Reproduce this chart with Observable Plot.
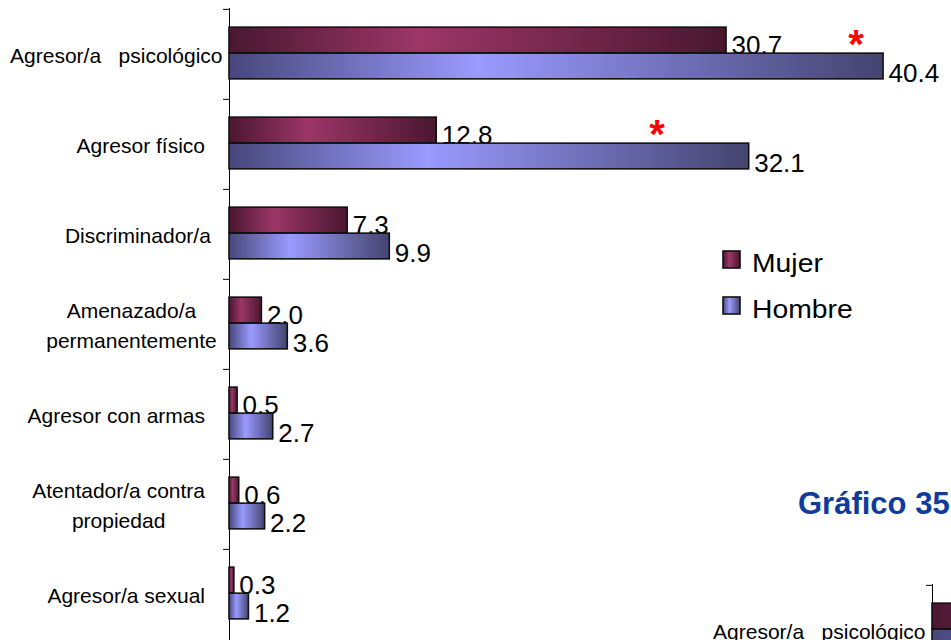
<!DOCTYPE html>
<html><head><meta charset="utf-8">
<script src="https://cdn.jsdelivr.net/npm/d3@7"></script>
<script src="https://cdn.jsdelivr.net/npm/@observablehq/plot@0.6"></script>
<style>
html,body{margin:0;padding:0;background:#fff;}
body{width:951px;height:640px;overflow:hidden;position:relative;font-family:"Liberation Sans",Arial,sans-serif;}
.panel{position:absolute;width:951px;height:640px;}
.panel svg{max-width:none !important;}
#overlay{position:absolute;left:0;top:0;pointer-events:none;}
.wide{transform-box:fill-box;transform-origin:0% 50%;transform:scaleX(1.09);}
</style></head><body>
<svg width="0" height="0" style="position:absolute">
<defs>
<linearGradient id="gMujer" x1="0" x2="1" y1="0" y2="0">
<stop offset="0" stop-color="#4a1731"/><stop offset="0.38" stop-color="#9c3667"/><stop offset="1" stop-color="#4a1730"/>
</linearGradient>
<linearGradient id="gHombre" x1="0" x2="1" y1="0" y2="0">
<stop offset="0" stop-color="#47477b"/><stop offset="0.38" stop-color="#9a9aff"/><stop offset="1" stop-color="#444470"/>
</linearGradient>
</defs>
</svg>
<div id="main" class="panel" style="left:0;top:0"></div>
<div id="mini" class="panel" style="left:703px;top:576px"></div>
<svg id="overlay" width="951" height="640"></svg>
<script>
// ---- data ----
const categories = ["Agresor/a psicológico", "Agresor físico", "Discriminador/a", "Amenazado/a permanentemente", "Agresor con armas", "Atentador/a contra propiedad", "Agresor/a sexual"];
const categoryLabels = ["Agresor/a\u00a0\u00a0\u00a0psicológico", "Agresor físico\u00a0\u00a0\u00a0", "Discriminador/a\u00a0\u00a0", "Amenazado/a\npermanentemente\u00a0", "Agresor con armas\u00a0\u00a0\u00a0", "Atentador/a contra\npropiedad\u00a0\u00a0\u00a0", "Agresor/a sexual\u00a0\u00a0\u00a0"];
const series = ["Mujer", "Hombre"];
const mujer = [30.7, 12.8, 7.3, 2.0, 0.5, 0.6, 0.3];
const hombre = [40.4, 32.1, 9.9, 3.6, 2.7, 2.2, 1.2];
const significant = [{category: "Agresor/a psicológico", x: 38.7}, {category: "Agresor físico", x: 26.4}];
const title = "Gráfico 35";

// ---- layout ----
const W = 951, H = 640, AXIS = 229, TOP = 8, PX = 16.19;
const band = (H - TOP) / categories.length;
const BAR = 26;
const LABEL_SIZE = 21, LINE = 29.5, VALUE_SIZE = 26;
const FONT = '"Liberation Sans", Arial, sans-serif';
const fmt = d3.format(".1f");

const rowsM = categories.map((c, i) => ({category: c, value: mujer[i]}));
const rowsH = categories.map((c, i) => ({category: c, value: hombre[i]}));

const ctx = document.createElement("canvas").getContext("2d");
ctx.font = `${LABEL_SIZE}px "Liberation Sans"`;

function labelMarks() {
  const marks = [];
  categoryLabels.forEach((lab, i) => {
    const lines = lab.split("\n");
    const trimmed = lines.map(s => s.replace(/\u00a0+$/, ""));
    const pad = ctx.measureText(lab.match(/\u00a0*$/)[0]).width;
    const tw = trimmed.map(s => ctx.measureText(s).width);
    const bt = Math.max(...tw);
    trimmed.forEach((s, j) => {
      marks.push(Plot.text([categories[i]], {
        x: 0, y: d => d, text: () => s, textAnchor: "end", lineAnchor: "middle",
        fontSize: LABEL_SIZE, fill: "#000",
        dx: -7 - pad - (bt - tw[j]) / 2,
        dy: (j - (lines.length - 1) / 2) * LINE + 2
      }));
    });
  });
  return marks;
}

function chart() {
  const topM = (band - 2 * BAR) / 2 - 1;
  const svg = Plot.plot({
    width: W, height: H,
    marginLeft: AXIS, marginTop: TOP, marginBottom: 0, marginRight: 0,
    style: {fontFamily: FONT, background: "transparent", overflow: "visible", maxWidth: "none"},
    x: {domain: [0, 44], range: [AXIS, AXIS + 44 * PX], axis: null},
    y: {domain: categories, padding: 0, axis: null},
    marks: [
      Plot.ruleX([0], {stroke: "#000", strokeWidth: 1}),
      Plot.ruleY(categories, {y: d => d, x1: -6 / PX, x2: 0, dy: -band / 2, stroke: "#000", strokeWidth: 1}),
      ...labelMarks(),
      Plot.barX(rowsM, {x: "value", y: "category", insetTop: topM, insetBottom: band - topM - BAR,
        fill: "url(#gMujer)", stroke: "#111", strokeWidth: 1.6}),
      Plot.text(rowsM, {x: "value", y: "category", text: d => fmt(d.value), textAnchor: "start", lineAnchor: "bottom",
        dx: 5, dy: -1, fontSize: VALUE_SIZE, fill: "#000", ariaLabel: "value"}),
      Plot.barX(rowsH, {x: "value", y: "category", insetTop: topM + BAR, insetBottom: band - topM - 2 * BAR,
        fill: "url(#gHombre)", stroke: "#111", strokeWidth: 1.6}),
      Plot.text(rowsH, {x: "value", y: "category", text: d => fmt(d.value), textAnchor: "start", lineAnchor: "bottom",
        dx: 5, dy: 27, fontSize: VALUE_SIZE, fill: "#000", ariaLabel: "value"}),
      Plot.text(significant, {x: "x", y: "category", text: () => "*", fill: "#ff0000", fontWeight: "bold",
        fontSize: 40, textAnchor: "middle", lineAnchor: "bottom", dy: 3})
    ]
  });
  d3.select(svg).selectAll('g[aria-label="value"] text').classed("wide", true);
  return svg;
}

document.getElementById("main").append(chart());
document.getElementById("mini").append(chart());

// legend + next title
const ov = d3.select("#overlay").style("font-family", FONT);
const grads = {Mujer: "url(#gMujer)", Hombre: "url(#gHombre)"};
series.forEach((s, i) => {
  const y = 251 + i * 46;
  ov.append("rect").attr("x", 723).attr("y", y).attr("width", 17).attr("height", 17)
    .attr("fill", grads[s]).attr("stroke", "#111").attr("stroke-width", 1.6);
  ov.append("text").attr("x", 752).attr("y", y + 21).attr("font-size", 26).attr("fill", "#000")
    .attr("class", "wide").text(s);
});
ov.append("text").attr("x", 798).attr("y", 514).attr("font-size", 31).attr("font-weight", "bold")
  .attr("fill", "#0e3b9c").text(title);
</script>
</body></html>
